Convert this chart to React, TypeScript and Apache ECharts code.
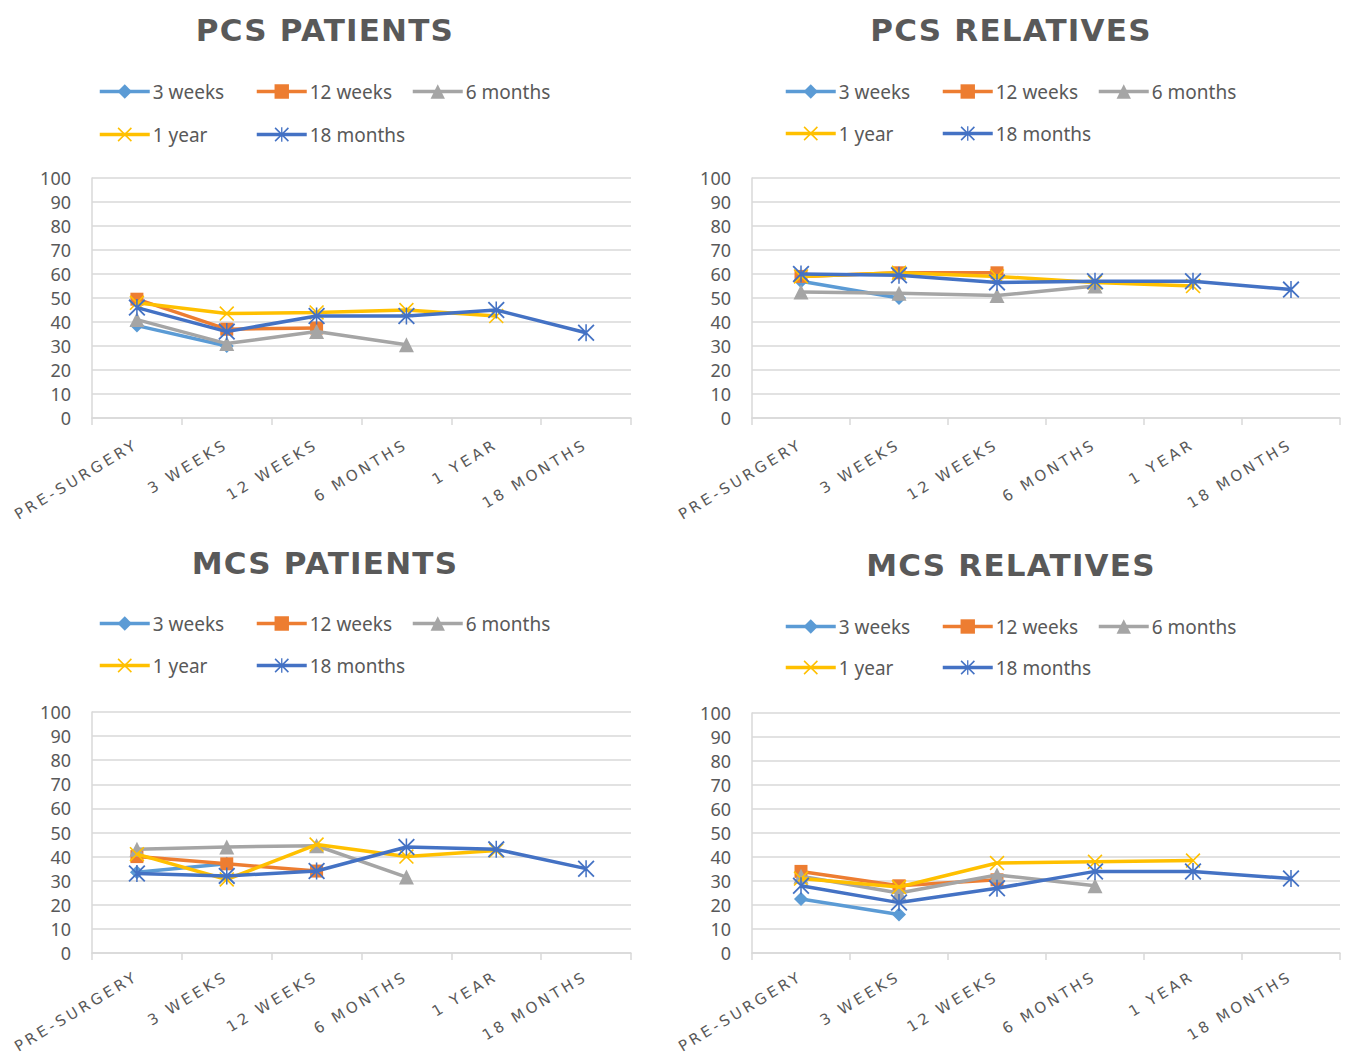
import React, { useEffect, useRef } from "react";
import * as echarts from "echarts";

const categories = ["PRE-SURGERY", "3 WEEKS", "12 WEEKS", "6 MONTHS", "1 YEAR", "18 MONTHS"];
const seriesNames = ["3 weeks", "12 weeks", "6 months", "1 year", "18 months"];
const chartTitles = ["PCS PATIENTS", "PCS RELATIVES", "MCS PATIENTS", "MCS RELATIVES"];

const pcsPatients3Weeks = [38.5, 30];
const pcsPatients12Weeks = [49.5, 37, 37.5];
const pcsPatients6Months = [41, 31, 36, 30.5];
const pcsPatients1Year = [48, 43.5, 44, 45, 42.5];
const pcsPatients18Months = [46, 36, 42.5, 42.5, 45, 35.5];

const pcsRelatives3Weeks = [57, 50];
const pcsRelatives12Weeks = [59, 60.5, 60.5];
const pcsRelatives6Months = [52.5, 52, 51, 55];
const pcsRelatives1Year = [59, 60.5, 59, 56.5, 55];
const pcsRelatives18Months = [60, 59.5, 56.5, 57, 57, 53.5];

const mcsPatients3Weeks = [33.5, 37];
const mcsPatients12Weeks = [40, 37, 34];
const mcsPatients6Months = [43, 44, 44.5, 31.5];
const mcsPatients1Year = [41, 30.5, 45, 40, 42.5];
const mcsPatients18Months = [33, 32, 34, 44, 43, 35];

const mcsRelatives3Weeks = [22.5, 16];
const mcsRelatives12Weeks = [34, 28, 30.5];
const mcsRelatives6Months = [32, 25, 32.5, 28];
const mcsRelatives1Year = [31, 27.5, 37.5, 38, 38.5];
const mcsRelatives18Months = [28, 21, 27, 34, 34, 31];

const yMin = 0;
const yMax = 100;
const yInterval = 10;

const chartData = [
  [pcsPatients3Weeks, pcsPatients12Weeks, pcsPatients6Months, pcsPatients1Year, pcsPatients18Months],
  [pcsRelatives3Weeks, pcsRelatives12Weeks, pcsRelatives6Months, pcsRelatives1Year, pcsRelatives18Months],
  [mcsPatients3Weeks, mcsPatients12Weeks, mcsPatients6Months, mcsPatients1Year, mcsPatients18Months],
  [mcsRelatives3Weeks, mcsRelatives12Weeks, mcsRelatives6Months, mcsRelatives1Year, mcsRelatives18Months],
];

const X_PATH = "path://M0 1.5L1.5 0L20 18.5L18.5 20Z M20 1.5L1.5 20L0 18.5L18.5 0Z";
const STAR_PATH = X_PATH + " M9.1 0L10.9 0L10.9 20L9.1 20Z";

const colors = ["#5B9BD5", "#ED7D31", "#A5A5A5", "#FFC000", "#4472C4"];
const symbols = ["diamond", "rect", "triangle", X_PATH, STAR_PATH];
const symbolSizes = [14, 13, 15, 15, 17];

const TEXT = "#595959";
const GRID = "#D9D9D9";

// layout of each panel (page pixels)
const grids = [
  { left: 92, top: 178, width: 539, height: 240 },
  { left: 752, top: 178, width: 588, height: 240 },
  { left: 92, top: 712, width: 539, height: 241 },
  { left: 752, top: 713, width: 588, height: 240 },
];
const labelMargins = [25, 25, 22, 22];
const titlePos = [
  [325, 30],
  [1011, 30],
  [325, 563],
  [1011, 565],
];
const legendCols = [
  [98, 255, 411],
  [784, 941, 1097],
  [98, 255, 411],
  [784, 941, 1097],
];
const legendRows = [
  [92, 135],
  [92, 134],
  [624, 666],
  [627, 668],
];

export default function App() {
  const ref = useRef<HTMLDivElement>(null);

  useEffect(() => {
    if (!ref.current) return;
    const chart = echarts.init(ref.current, null, { renderer: "svg" });

    const xAxis: any[] = [];
    const yAxis: any[] = [];
    const series: any[] = [];
    const legend: any[] = [];
    const graphic: any[] = [];

    grids.forEach((g, gi) => {
      xAxis.push({
        type: "category",
        gridIndex: gi,
        data: categories,
        boundaryGap: true,
        axisLine: { show: true, lineStyle: { color: GRID, width: 1.5 } },
        axisTick: { show: true, length: 7, lineStyle: { color: GRID, width: 1.5 } },
        axisLabel: {
          interval: 0,
          rotate: 31,
          margin: labelMargins[gi],
          color: TEXT,
          fontFamily: "DejaVu Sans",
          fontSize: 15,
        },
        splitLine: { show: false },
      });
      yAxis.push({
        type: "value",
        gridIndex: gi,
        min: yMin,
        max: yMax,
        interval: yInterval,
        axisLine: { show: true, lineStyle: { color: GRID, width: 1.5 } },
        axisTick: { show: false },
        axisLabel: { color: TEXT, fontFamily: "Noto Sans", fontSize: 18, margin: 21 },
        splitLine: { show: true, lineStyle: { color: GRID, width: 1.5 } },
      });
      chartData[gi].forEach((arr, si) => {
        series.push({
          type: "line",
          name: seriesNames[si],
          xAxisIndex: gi,
          yAxisIndex: gi,
          data: arr,
          symbol: symbols[si],
          symbolSize: symbolSizes[si],
          showAllSymbol: true,
          lineStyle: { color: colors[si], width: 3.5 },
          itemStyle: { color: colors[si] },
          z: 2 + si,
        });
      });
      seriesNames.forEach((name, si) => {
        const row = si < 3 ? 0 : 1;
        const col = si < 3 ? si : si - 3;
        legend.push({
          left: legendCols[gi][col],
          top: legendRows[gi][row] - 10,
          data: [name],
          itemWidth: 50,
          itemHeight: 18,
          itemGap: 0,
          padding: 0,
          selectedMode: false,
          lineStyle: { width: 3.5 },
          textStyle: { color: TEXT, fontFamily: "Noto Sans", fontSize: 19, padding: [0, 0, 0, -2] },
        });
      });
      graphic.push({
        type: "text",
        x: titlePos[gi][0],
        y: titlePos[gi][1],
        style: {
          text: chartTitles[gi],
          fontFamily: "DejaVu Sans",
          fontWeight: "bold",
          fontSize: 31,
          fill: TEXT,
          align: "center",
          verticalAlign: "middle",
        },
      });
    });

    chart.setOption({
      animation: false,
      backgroundColor: "#ffffff",
      grid: grids.map((g) => ({ ...g, containLabel: false })),
      xAxis,
      yAxis,
      series,
      legend,
      graphic,
    });

    const spaceLabels = () => {
      const texts = ref.current?.querySelectorAll("text");
      texts?.forEach((t) => {
        const s = (t.textContent || "").trim();
        if (categories.includes(s)) {
          t.setAttribute("letter-spacing", "3.3");
        } else if (chartTitles.includes(s)) {
          t.setAttribute("letter-spacing", "1.2");
        }
      });
    };
    spaceLabels();
    chart.on("finished", spaceLabels);

    return () => {
      chart.dispose();
    };
  }, []);

  return (
    <div
      ref={ref}
      style={{ position: "absolute", left: 0, top: 0, width: 1346, height: 1055, background: "#fff" }}
    />
  );
}
